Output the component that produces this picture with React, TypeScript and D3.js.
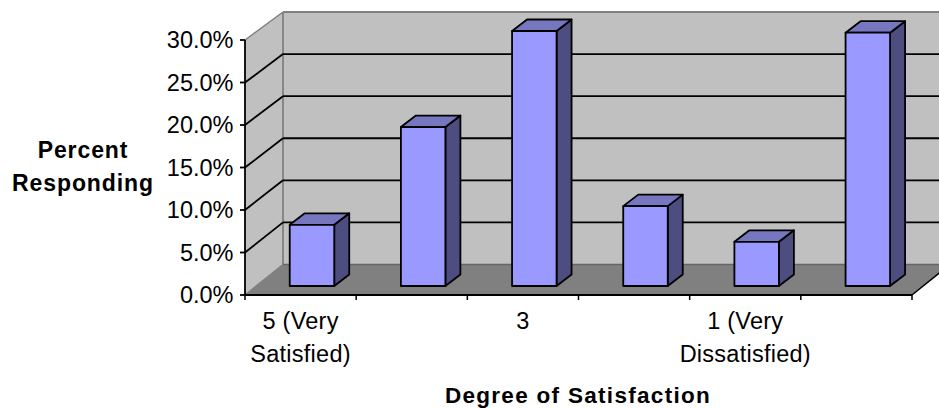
import React from "react";
import * as d3 from "d3";

const categories = ["5 (Very\nSatisfied)", "", "3", "", "1 (Very\nDissatisfied)", ""];
const values = [7.2, 18.7, 30.0, 9.4, 5.2, 29.8];
const yTicks = [0, 5, 10, 15, 20, 25, 30];
const yAxisTitle = ["Percent", "Responding"];
const xAxisTitle = "Degree of Satisfaction";

const W = 939, H = 408;
const x0 = 245, x1 = 912;
const yBottom = 295, yTop = 40;
const depthX = 38, depthY = 30.5;
const backTopY = 12;

const band = d3.scaleBand<number>().domain(d3.range(categories.length)).range([x0, x1]);
const y = d3.scaleLinear().domain([0, 30]).range([yBottom, yTop]);
const yBack = d3.scaleLinear().domain([0, 30]).range([yBottom - depthY, backTopY]);
const poly = (p: [number, number][]) => p.map((d) => d.join(",")).join(" ");

const barW = 44.5;
const barShiftX = 11.4, barShiftY = 9;
const barDX = 15, barDY = 11.5;
const font = "'Liberation Sans', Arial, sans-serif";

export default function App() {
  const bx = x0 + depthX;
  const by0 = yBack(0);
  const by1 = yBack(30);
  return (
    <svg width={W} height={H} style={{ position: "absolute", left: 0, top: 0, background: "#fff" }} fontFamily={font}>
      <rect x={bx} y={by1} width={W - bx} height={by0 - by1} fill="#c0c0c0" />
      <polygon points={poly([[x0, yTop], [bx, by1], [bx, by0], [x0, yBottom]])} fill="#c0c0c0" />
      <polygon points={poly([[x0, yBottom], [bx, by0], [x1 + depthX, by0], [x1, yBottom]])} fill="#808080" />
      <line x1={x0} y1={yTop} x2={bx} y2={by1} stroke="#808080" strokeWidth={1.5} />
      <line x1={bx} y1={by1} x2={W} y2={by1} stroke="#808080" strokeWidth={1.8} />
      <line x1={bx} y1={by1} x2={bx} y2={by0} stroke="#808080" strokeWidth={1.8} />
      <line x1={x0} y1={yBottom} x2={bx} y2={by0} stroke="#808080" strokeWidth={1.5} />
      <line x1={bx} y1={by0} x2={W} y2={by0} stroke="#666" strokeWidth={1.5} />
      {yTicks.filter((t) => t > 0 && t < 30).map((t) => (
        <g key={t} stroke="#000" strokeWidth={1.8} fill="none">
          <line x1={x0} y1={y(t)} x2={bx} y2={yBack(t)} />
          <line x1={bx} y1={yBack(t)} x2={W} y2={yBack(t)} />
        </g>
      ))}
      <line x1={x0} y1={yTop} x2={x0} y2={yBottom} stroke="#000" strokeWidth={1.8} />
      <line x1={x0} y1={yBottom} x2={x1} y2={yBottom} stroke="#000" strokeWidth={1.8} />
      <line x1={x1} y1={yBottom} x2={x1 + depthX} y2={by0} stroke="#000" strokeWidth={1.5} />
      {yTicks.map((t) => (
        <g key={t}>
          <line x1={x0 - 5} y1={y(t)} x2={x0} y2={y(t)} stroke="#000" strokeWidth={1.8} />
          <text x={x0 - 11.5} y={y(t) + 8} textAnchor="end" fontSize={23.5} fill="#000">
            {t.toFixed(1)}%
          </text>
        </g>
      ))}
      {d3.range(categories.length + 1).map((i) => {
        const tx = i < categories.length ? band(i)! : x1;
        return <line key={i} x1={tx} y1={yBottom} x2={tx} y2={yBottom + 5} stroke="#000" strokeWidth={1.5} />;
      })}
      {values.map((v, i) => {
        const l = band(i)! + (band.bandwidth() - barW) / 2 + barShiftX;
        const r = l + barW;
        const b = y(0) - barShiftY;
        const t = y(v) - barShiftY;
        return (
          <g key={i} stroke="#000" strokeWidth={1.8} strokeLinejoin="round">
            <polygon points={poly([[r, t], [r + barDX, t - barDY], [r + barDX, b - barDY], [r, b]])} fill="#4d4d80" />
            <polygon points={poly([[l, t], [l + barDX, t - barDY], [r + barDX, t - barDY], [r, t]])} fill="#7777bf" />
            <rect x={l} y={t} width={barW} height={b - t} fill="#9999ff" />
          </g>
        );
      })}
      {categories.map((c, i) =>
        c.split("\n").map((line, k) => (
          <text key={i + "-" + k} x={band(i)! + band.bandwidth() / 2} y={328.5 + k * 33} textAnchor="middle" fontSize={23.5} letterSpacing={0.25} fill="#000">
            {line}
          </text>
        ))
      )}
      {yAxisTitle.map((line, k) => (
        <text key={k} x={83} y={157.5 + k * 33} textAnchor="middle" fontSize={23} fontWeight="bold" letterSpacing={0.9} fill="#000">
          {line}
        </text>
      ))}
      <text x={578} y={402.5} textAnchor="middle" fontSize={22.5} fontWeight="bold" letterSpacing={1.3} fill="#000">
        {xAxisTitle}
      </text>
    </svg>
  );
}
